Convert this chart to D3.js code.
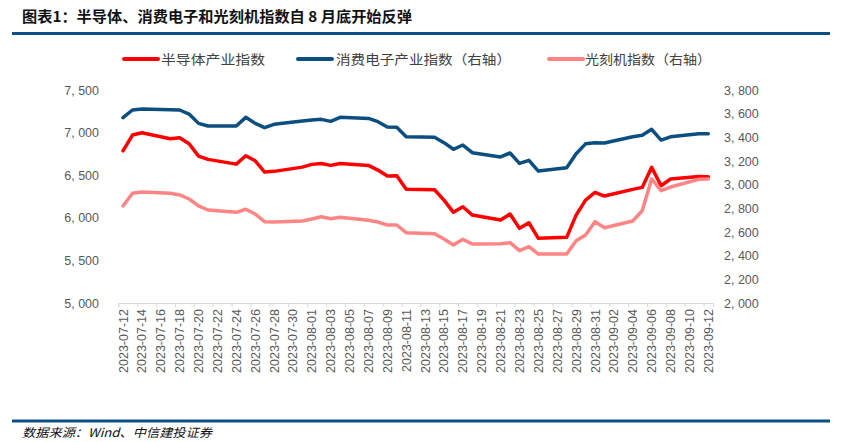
<!DOCTYPE html>
<html>
<head>
<meta charset="utf-8">
<script src="https://cdn.jsdelivr.net/npm/d3@7"></script>
<style>
  body { margin: 0; background: #fff; }
  text { font-family: "Liberation Sans", Arial, sans-serif; }
  .cjk { font-family: "Noto Sans CJK SC", sans-serif; }
</style>
</head>
<body>
<script>
//trading days shown on the chart
var dates = ["2023-07-12","2023-07-13","2023-07-14","2023-07-17","2023-07-18","2023-07-19","2023-07-20","2023-07-21",
  "2023-07-24","2023-07-25","2023-07-26","2023-07-27","2023-07-28","2023-07-31","2023-08-01","2023-08-02","2023-08-03",
  "2023-08-04","2023-08-07","2023-08-08","2023-08-09","2023-08-10","2023-08-11","2023-08-14","2023-08-15","2023-08-16",
  "2023-08-17","2023-08-18","2023-08-21","2023-08-22","2023-08-23","2023-08-24","2023-08-25","2023-08-28","2023-08-29",
  "2023-08-30","2023-08-31","2023-09-01","2023-09-04","2023-09-05","2023-09-06","2023-09-07","2023-09-08","2023-09-11",
  "2023-09-12"];

//半导体产业指数 (left axis)
var semi = [6786,6971,6998,6928,6940,6869,6724,6686,6630,6728,6669,6537,6545,6595,6627,6638,6615,6638,6615,6560,
  6490,6493,6334,6329,6208,6064,6130,6032,5974,6044,5876,5942,5759,5771,6032,6208,6298,6255,6334,6357,6592,6376,
  6455,6486,6482];

//消费电子产业指数 (right axis)
var consumer = [3566,3631,3639,3633,3631,3597,3518,3496,3496,3569,3518,3482,3510,3538,3547,3552,3535,3569,3560,3532,
  3487,3485,3405,3400,3355,3299,3335,3270,3234,3268,3180,3206,3115,3143,3262,3345,3355,3352,3405,3417,3468,3377,
  3404,3431,3431];

//光刻机指数 (right axis)
var litho = [2820,2927,2938,2927,2913,2879,2820,2786,2766,2792,2752,2687,2684,2693,2710,2729,2712,2724,2699,2684,
  2659,2659,2594,2586,2541,2490,2538,2499,2501,2510,2442,2476,2414,2414,2526,2575,2687,2636,2693,2780,3048,2949,
  2980,3045,3048];

//axis ticks
var leftTicks = [5000,5500,6000,6500,7000,7500];
var rightTicks = [2000,2200,2400,2600,2800,3000,3200,3400,3600,3800];

var seriesNames = ["半导体产业指数","消费电子产业指数（右轴）","光刻机指数（右轴）"];
var seriesColors = ["#ff0000","#0b4f80","#ff8585"];

var w = 844, h = 442;
var svg = d3.select("body").append("svg")
  .attr("width", w)
  .attr("height", h);

var parse = d3.timeParse("%Y-%m-%d");
var day = 24*3600*1000;

//x: calendar date axis, points sit in the middle of each day
var x = d3.scaleTime()
  .domain([parse("2023-07-12"), parse("2023-09-13")])
  .range([118.3, 713]);

var yL = d3.scaleLinear().domain([5000, 7500]).range([303, 90]);
var yR = d3.scaleLinear().domain([2000, 3800]).range([303, 90]);

var fmt = function(v){ return d3.format(",")(v).replace(",", ", "); };

//title
svg.append("text")
  .attr("class", "cjk")
  .attr("x", 22).attr("y", 22)
  .attr("font-size", 14.5)
  .attr("font-weight", "bold")
  .attr("fill", "#111")
  .attr("textLength", 390)
  .attr("lengthAdjust", "spacingAndGlyphs")
  .text("图表1：半导体、消费电子和光刻机指数自 8 月底开始反弹");

//rules top and bottom
svg.append("rect").attr("x", 12).attr("y", 32).attr("width", 818).attr("height", 3).attr("fill", "#0b5083");
svg.append("rect").attr("x", 12).attr("y", 419.5).attr("width", 818).attr("height", 3).attr("fill", "#0b5083");

//source
svg.append("text")
  .attr("class", "cjk")
  .attr("x", 22).attr("y", 437)
  .attr("font-size", 12)
  .attr("font-style", "italic")
  .attr("fill", "#111")
  .attr("textLength", 190)
  .attr("lengthAdjust", "spacingAndGlyphs")
  .text("数据来源：Wind、中信建投证券");

//legend
var legendPos = [{lx: 124, tx: 161, tw: 104}, {lx: 298, tx: 336, tw: 175}, {lx: 549, tx: 585, tw: 126}];
var legend = svg.selectAll(".legend")
  .data(seriesNames)
  .enter()
  .append("g")
  .attr("class", "legend");
legend.append("line")
  .attr("x1", function(d, i){ return legendPos[i].lx; })
  .attr("x2", function(d, i){ return legendPos[i].lx + 34; })
  .attr("y1", 59).attr("y2", 59)
  .attr("stroke", function(d, i){ return seriesColors[i]; })
  .attr("stroke-width", 4)
  .attr("stroke-linecap", "round");
legend.append("text")
  .attr("class", "cjk")
  .attr("x", function(d, i){ return legendPos[i].tx; })
  .attr("y", 64)
  .attr("font-size", 13)
  .attr("fill", "#404040")
  .attr("textLength", function(d, i){ return legendPos[i].tw; })
  .attr("lengthAdjust", "spacingAndGlyphs")
  .text(function(d){ return d; });

//left axis labels
svg.selectAll(".lt")
  .data(leftTicks)
  .enter()
  .append("text")
  .attr("class", "lt")
  .attr("x", 99)
  .attr("y", function(d){ return yL(d) + 4.5; })
  .attr("text-anchor", "end")
  .attr("font-size", 12.5)
  .attr("fill", "#595959")
  .text(fmt);

//right axis labels
svg.selectAll(".rt")
  .data(rightTicks)
  .enter()
  .append("text")
  .attr("class", "rt")
  .attr("x", 724)
  .attr("y", function(d){ return yR(d) + 4.5; })
  .attr("font-size", 12.5)
  .attr("fill", "#595959")
  .text(fmt);

//x axis: ticks every 2 days at day boundaries, labels centred on the day
var tickDays = d3.timeDay.range(parse("2023-07-12"), parse("2023-09-14"), 2);
var xAxis = d3.axisBottom(x)
  .tickValues(tickDays)
  .tickSize(4)
  .tickFormat("");
var gx = svg.append("g")
  .attr("transform", "translate(0,303)")
  .call(xAxis);
gx.select(".domain").attr("stroke", "#d9d9d9");
gx.selectAll(".tick line").attr("stroke", "#d9d9d9");

var labelDays = d3.timeDay.range(parse("2023-07-12"), parse("2023-09-13"), 2);
svg.selectAll(".xl")
  .data(labelDays)
  .enter()
  .append("text")
  .attr("class", "xl")
  .attr("transform", function(d){
    return "translate(" + (x(new Date(+d + day/2)) + 4.5) + ",309) rotate(-90)";
  })
  .attr("text-anchor", "end")
  .attr("font-size", 12.5)
  .attr("fill", "#595959")
  .text(d3.timeFormat("%Y-%m-%d"));

//lines
function pts(values){
  return values.map(function(v, i){ return [new Date(+parse(dates[i]) + day/2), v]; });
}
var lineL = d3.line().x(function(d){ return x(d[0]); }).y(function(d){ return yL(d[1]); });
var lineR = d3.line().x(function(d){ return x(d[0]); }).y(function(d){ return yR(d[1]); });

svg.append("path").datum(pts(semi))
  .attr("d", lineL).attr("fill", "none")
  .attr("stroke", seriesColors[0]).attr("stroke-width", 3.5)
  .attr("stroke-linejoin", "round").attr("stroke-linecap", "round");
svg.append("path").datum(pts(consumer))
  .attr("d", lineR).attr("fill", "none")
  .attr("stroke", seriesColors[1]).attr("stroke-width", 3.5)
  .attr("stroke-linejoin", "round").attr("stroke-linecap", "round");
svg.append("path").datum(pts(litho))
  .attr("d", lineR).attr("fill", "none")
  .attr("stroke", seriesColors[2]).attr("stroke-width", 3.5)
  .attr("stroke-linejoin", "round").attr("stroke-linecap", "round");
</script>
</body>
</html>
